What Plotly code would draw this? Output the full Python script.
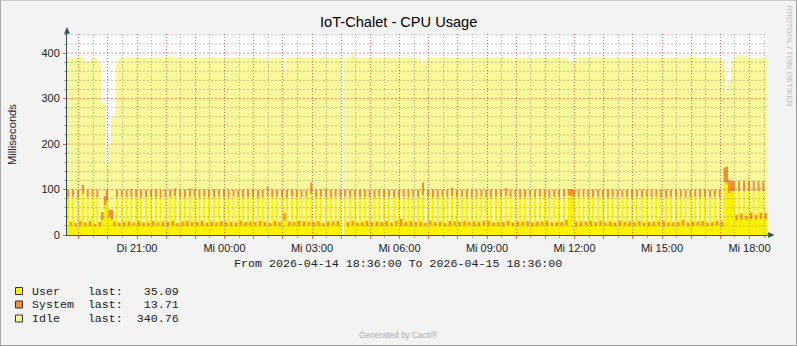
import plotly.graph_objects as go
from datetime import datetime, timedelta

# ---------------- data (5-minute samples, 2026-04-14 18:36 .. 2026-04-15 18:36) ----------------
start_time = "2026-04-14 18:36"
step_minutes = 5

user = [
    83, 20, 84, 20, 82, 21, 90, 20, 83, 20, 84, 19, 83, 20, 33, 65, 75, 38, 33, 20, 83, 20, 84, 20,
    83, 20, 83, 21, 84, 20, 82, 20, 83, 19, 84, 20, 83, 21, 82, 20, 84, 20, 83, 20, 85, 19, 83, 20,
    83, 20, 84, 21, 83, 20, 82, 20, 84, 19, 83, 20, 83, 21, 84, 20, 83, 20, 82, 19, 84, 20, 83, 21,
    83, 20, 84, 20, 83, 21, 82, 20, 83, 20, 86, 19, 83, 20, 84, 20, 83, 33, 82, 20, 84, 21, 83, 20,
    83, 20, 84, 21, 90, 20, 83, 20, 84, 19, 83, 20, 82, 21, 84, 20, 83, None, 84, 20, 83, 21, 84, 20,
    83, 20, 84, 20, 83, 21, 82, 20, 84, 20, 83, 19, 84, 20, 83, 21, 82, 20, 84, 20, 83, 20, 84, 21,
    83, 20, 88, 20, 84, 21, 83, 20, 82, 20, 84, 19, 83, 20, 86, 21, 83, 20, 84, 20, 82, 21, 83, 20,
    83, 20, 84, 21, 83, 20, 82, 20, 84, 19, 83, 20, 86, 21, 83, 20, 84, 20, 82, 21, 83, 20, 84, 20,
    83, 20, 84, 21, 83, 20, 82, 20, 84, 19, 83, 20, 84, 21, 88, 86, 84, 20, 83, 20, 84, 21, 83, 20,
    83, 20, 84, 21, 83, 20, 82, 20, 84, 19, 83, 20, 84, 21, 83, 20, 82, 20, 84, 21, 83, 20, 84, 19,
    83, 20, 84, 21, 83, 20, 82, 20, 84, 19, 83, 20, 84, 21, 83, 20, 82, 20, 84, 21, 83, 20, 84, 20,
    83, 20, 84, 21, 83, 20, 116, 114, 92, 97, 97, 33, 97, 34, 96, 33, 97, 35, 97, 34, 96, 35, 97, 35.09,
]

system = [
    17, 9, 16, 7, 18, 10, 20, 8, 17, 11, 16, 6, 17, 9, 18, 22, 25, 18, 22, 10, 17, 8, 16, 9,
    17, 10, 18, 7, 16, 12, 18, 8, 17, 9, 16, 11, 17, 7, 18, 10, 16, 9, 17, 12, 18, 8, 17, 10,
    16, 11, 17, 8, 18, 9, 17, 12, 16, 8, 17, 10, 18, 7, 16, 11, 17, 9, 18, 10, 16, 8, 17, 11,
    17, 9, 16, 10, 18, 8, 17, 11, 16, 9, 21, 8, 17, 12, 16, 9, 17, 16, 18, 10, 16, 8, 17, 11,
    17, 10, 16, 8, 26, 9, 17, 11, 16, 8, 18, 10, 17, 9, 16, 11, 17, None, 16, 9, 17, 10, 16, 8,
    17, 9, 16, 11, 17, 8, 18, 10, 16, 9, 17, 12, 16, 8, 17, 10, 18, 15, 16, 9, 17, 11, 16, 8,
    17, 10, 28, 8, 16, 11, 17, 9, 18, 10, 16, 8, 17, 11, 18, 9, 17, 10, 16, 12, 18, 8, 17, 10,
    17, 9, 16, 10, 17, 12, 18, 8, 16, 10, 17, 9, 18, 11, 17, 8, 16, 10, 18, 9, 17, 11, 16, 8,
    17, 10, 16, 9, 17, 11, 18, 8, 16, 10, 17, 9, 16, 12, 13, 15, 16, 9, 17, 10, 16, 8, 17, 11,
    17, 9, 16, 11, 17, 8, 18, 10, 16, 9, 17, 12, 16, 8, 17, 10, 18, 9, 16, 11, 17, 8, 16, 10,
    17, 10, 16, 9, 17, 11, 18, 8, 16, 10, 17, 9, 16, 12, 17, 8, 18, 10, 16, 9, 17, 11, 16, 8,
    17, 9, 16, 11, 17, 10, 33, 37, 30, 22, 22, 12, 22, 14, 23, 10, 22, 15, 22, 11, 23, 14, 22, 13.71,
]

idle = [
    290, 360, 291, 363, 287, 362, 282, 355, 281, 353, 289, 365, 288, 346, 239, 203, 58, 144, 205, 232, 275, 360, 290, 360,
    290, 361, 288, 362, 291, 358, 289, 362, 291, 362, 289, 359, 291, 362, 289, 360, 291, 364, 293, 360, 287, 362, 290, 361,
    291, 358, 289, 362, 289, 360, 291, 359, 290, 363, 289, 360, 290, 362, 290, 358, 290, 362, 290, 361, 289, 362, 291, 358,
    290, 362, 290, 359, 289, 362, 291, 358, 289, 357, 279, 361, 290, 359, 290, 360, 288, 311, 288, 360, 291, 361, 289, 359,
    290, 359, 290, 362, 274, 361, 289, 359, 291, 363, 288, 360, 292, 360, 289, 359, 290, None, 290, 362, 292, 369, 291, 362,
    290, 362, 290, 358, 290, 362, 290, 360, 289, 361, 291, 359, 290, 361, 290, 360, 290, 354, 290, 362, 290, 359, 289, 361,
    290, 358, 261, 357, 290, 359, 290, 360, 290, 361, 290, 363, 289, 359, 287, 360, 290, 359, 290, 359, 290, 361, 289, 360,
    290, 362, 290, 358, 290, 359, 290, 362, 289, 361, 291, 361, 286, 357, 288, 358, 286, 358, 290, 361, 290, 358, 290, 362,
    290, 359, 290, 361, 290, 359, 289, 362, 291, 361, 290, 360, 290, 355, 284, 279, 284, 360, 290, 361, 290, 361, 289, 359,
    290, 362, 293, 360, 290, 361, 290, 361, 290, 362, 289, 358, 291, 361, 290, 359, 290, 362, 290, 358, 289, 362, 291, 361,
    290, 359, 290, 361, 290, 359, 289, 362, 291, 361, 290, 360, 290, 358, 290, 364, 294, 364, 292, 360, 289, 359, 291, 362,
    290, 360, 290, 358, 289, 358, 221, 164, 218, 266, 270, 347, 276, 348, 276, 347, 269, 337, 270, 345, 270, 341, 271, 340.76,
]

series_names = ["User", "System", "Idle"]
series_colors = ["#FFF200", "#F8902C", "#F9F99B"]
x_tick_labels = ["Di 21:00", "Mi 00:00", "Mi 03:00", "Mi 06:00", "Mi 09:00", "Mi 12:00", "Mi 15:00", "Mi 18:00"]
y_tick_values = [0, 100, 200, 300, 400]
y_minor_step = 20
y_max = 442

title_text = "IoT-Chalet - CPU Usage"
y_title = "Milliseconds"
period_text = "From 2026-04-14 18:36:00 To 2026-04-15 18:36:00"
footer_text = "Generated by Cacti®"
side_text = "RRDTOOL / TOBI OETIKER"

# ---------------- geometry helpers (pixels -> paper) ----------------
W, H = 797, 346
PL, PR, PT, PB = 67, 767, 34, 235


def px(x):
    return (x - PL) / (PR - PL)


def py(y):
    return (PB - y) / (PB - PT)


start = datetime.strptime(start_time, "%Y-%m-%d %H:%M")
step = timedelta(minutes=step_minutes)
n = len(user)
end = start + step * n
xs = [start + step * i for i in range(n + 1)]

hours = [start.replace(minute=0) + timedelta(hours=h + 1) for h in range(24)]
label_by_hm = {lab.split(" ")[1]: lab for lab in x_tick_labels}
hour_text = [label_by_hm.get(t.strftime("%H:%M"), "") for t in hours]

AXIS_COL = "#2F4F4F"
MAJOR_GRID = "rgba(225,70,70,0.65)"
MINOR_GRID = "rgba(110,110,110,0.5)"
H_MAJOR_GRID = "rgba(225,70,70,0.6)"
H_MINOR_GRID = "rgba(110,110,110,0.42)"
V_DOTS = "1px,2px"
H_DOTS = "2px,2px"
TXT = "#222222"
SANS = "Liberation Sans, Arial, sans-serif"
MONO = "Liberation Mono, Courier New, monospace"

fig = go.Figure()
for name, vals, color in zip(series_names, [user, system, idle], series_colors):
    yv = [0 if v is None else v for v in vals]
    yv.append(yv[-1])
    fig.add_trace(go.Scatter(
        x=xs, y=yv, name=name, mode="lines", stackgroup="cpu",
        line=dict(width=0, shape="hv"), fillcolor=color,
        showlegend=False, hoverinfo="skip",
    ))

# horizontal grid lines on the overlapping grid subplot (drawn above the areas, like rrdtool)
minor_levels = [v for v in range(y_minor_step, y_max + 1, y_minor_step) if v not in y_tick_values]
major_levels = [v for v in y_tick_values if v > 0]
for levels, col in [(minor_levels, H_MINOR_GRID), (major_levels, H_MAJOR_GRID)]:
    gx, gy = [], []
    for v in levels:
        gx += [start, end, None]
        gy += [v, v, None]
    fig.add_trace(go.Scatter(x=gx, y=gy, xaxis="x2", yaxis="y2", mode="lines",
                             line=dict(color=col, width=1, dash=H_DOTS),
                             showlegend=False, hoverinfo="skip"))

xrange_ = [start, end]
fig.update_layout(
    width=W, height=H, autosize=False,
    margin=dict(l=PL, r=W - PR, t=PT, b=H - PB, pad=0),
    paper_bgcolor="#F3F3F3",
    plot_bgcolor="rgba(0,0,0,0)",
    showlegend=False,
    xaxis=dict(
        type="date", range=xrange_, domain=[0, 1],
        tickmode="array", tickvals=hours, ticktext=hour_text,
        ticks="outside", ticklen=3, tickwidth=1, tickcolor="#E06A6A",
        showgrid=False, showline=False, zeroline=False,
        tickfont=dict(family=SANS, size=11, color=TXT),
        minor=dict(ticks="outside", ticklen=2, tickcolor="#AAAAAA",
                   tick0="2026-04-14 18:30", dtick=1800000, showgrid=False),
    ),
    yaxis=dict(
        range=[0, y_max], domain=[0, 1],
        tickmode="array", tickvals=y_tick_values,
        ticks="outside", ticklen=3, tickwidth=1, tickcolor="#E06A6A",
        showgrid=False, showline=False, zeroline=False,
        tickfont=dict(family=SANS, size=11, color=TXT),
        ticklabelstandoff=1,
        minor=dict(ticks="outside", ticklen=2, tickcolor="#AAAAAA", tick0=0, dtick=y_minor_step, showgrid=False),
    ),
    xaxis2=dict(
        type="date", range=xrange_, domain=[0, 1], anchor="y2",
        tickmode="array", tickvals=hours, showticklabels=False, ticks="",
        showgrid=True, gridcolor=MAJOR_GRID, gridwidth=1, griddash=V_DOTS,
        showline=True, linecolor=AXIS_COL, linewidth=1, zeroline=False,
        minor=dict(tick0="2026-04-14 18:30", dtick=1800000, showgrid=True,
                   gridcolor=MINOR_GRID, gridwidth=1, griddash=V_DOTS, ticks=""),
    ),
    yaxis2=dict(
        range=[0, y_max], domain=[0, 1], anchor="x2",
        showticklabels=False, ticks="", showgrid=False,
        showline=True, linecolor=AXIS_COL, linewidth=1, zeroline=False,
    ),
)

shapes = []
# white plot background (below everything)
shapes.append(dict(type="rect", xref="paper", yref="paper", x0=0, x1=1, y0=0, y1=1,
                   fillcolor="white", line=dict(width=0), layer="below"))
# outer frame
shapes.append(dict(type="line", xref="paper", yref="paper", x0=px(0.5), x1=px(W - 0.5), y0=py(0.5), y1=py(0.5),
                   line=dict(color="#C9C9C9", width=1)))
shapes.append(dict(type="line", xref="paper", yref="paper", x0=px(0.5), x1=px(0.5), y0=py(0.5), y1=py(H - 0.5),
                   line=dict(color="#A8A8A8", width=1)))
shapes.append(dict(type="line", xref="paper", yref="paper", x0=px(0.5), x1=px(W - 0.5), y0=py(H - 0.5), y1=py(H - 0.5),
                   line=dict(color="#9A9A9A", width=1)))
shapes.append(dict(type="line", xref="paper", yref="paper", x0=px(W - 0.5), x1=px(W - 0.5), y0=py(0.5), y1=py(H - 0.5),
                   line=dict(color="#9A9A9A", width=1)))
# axis extensions + arrow heads
shapes.append(dict(type="line", xref="paper", yref="paper", x0=px(67), x1=px(67), y0=py(34), y1=py(31),
                   line=dict(color=AXIS_COL, width=1)))
shapes.append(dict(type="path", xref="paper", yref="paper",
                   path="M {} {} L {} {} L {} {} Z".format(px(64.5), py(33.5), px(69.5), py(33.5), px(67), py(27.5)),
                   fillcolor=AXIS_COL, line=dict(color=AXIS_COL, width=0.5)))
shapes.append(dict(type="line", xref="paper", yref="paper", x0=px(767), x1=px(769), y0=py(235), y1=py(235),
                   line=dict(color=AXIS_COL, width=1)))
shapes.append(dict(type="path", xref="paper", yref="paper",
                   path="M {} {} L {} {} L {} {} Z".format(px(768.5), py(232.5), px(768.5), py(237.5), px(774), py(235)),
                   fillcolor=AXIS_COL, line=dict(color=AXIS_COL, width=0.5)))

annotations = []
annotations.append(dict(text=title_text, xref="paper", yref="paper", x=px(398.5), y=py(21.5),
                        xanchor="center", yanchor="middle", showarrow=False,
                        font=dict(family=SANS, size=14.6, color="#000000")))
annotations.append(dict(text=y_title, xref="paper", yref="paper", x=px(11.5), y=py(134.5),
                        xanchor="center", yanchor="middle", showarrow=False, textangle=-90,
                        font=dict(family=SANS, size=11.2, color=TXT)))
annotations.append(dict(text=period_text.replace(" ", "\u00a0"), xref="paper", yref="paper",
                        x=px(398.3), y=py(263), xanchor="center", yanchor="middle", showarrow=False,
                        font=dict(family=MONO, size=11.65, color=TXT)))
annotations.append(dict(text=footer_text, xref="paper", yref="paper", x=px(398.3), y=py(335),
                        xanchor="center", yanchor="middle", showarrow=False,
                        font=dict(family=SANS, size=8.4, color="#ABABAB")))
annotations.append(dict(text=side_text, xref="paper", yref="paper", x=px(788.5), y=py(56),
                        xanchor="center", yanchor="middle", showarrow=False, textangle=90,
                        font=dict(family=SANS, size=8, color="#BDBDBD")))

# legend rows
row_y = [291, 304.5, 318.5]
for name, vals, color, yy in zip(series_names, [user, system, idle], series_colors, row_y):
    last = [v for v in vals if v is not None][-1]
    text = "{:<8}last:{:>8.2f}".format(name, last).replace(" ", "\u00a0")
    shapes.append(dict(type="rect", xref="paper", yref="paper",
                       x0=px(15.5), x1=px(22.5), y0=py(yy - 3.5), y1=py(yy + 3.5),
                       fillcolor=color, line=dict(color="#333333", width=1)))
    annotations.append(dict(text=text, xref="paper", yref="paper", x=px(30.3), y=py(yy),
                            xanchor="left", yanchor="middle", showarrow=False,
                            font=dict(family=MONO, size=11.65, color=TXT)))

fig.update_layout(shapes=shapes, annotations=annotations)
fig.write_html("out.html")
